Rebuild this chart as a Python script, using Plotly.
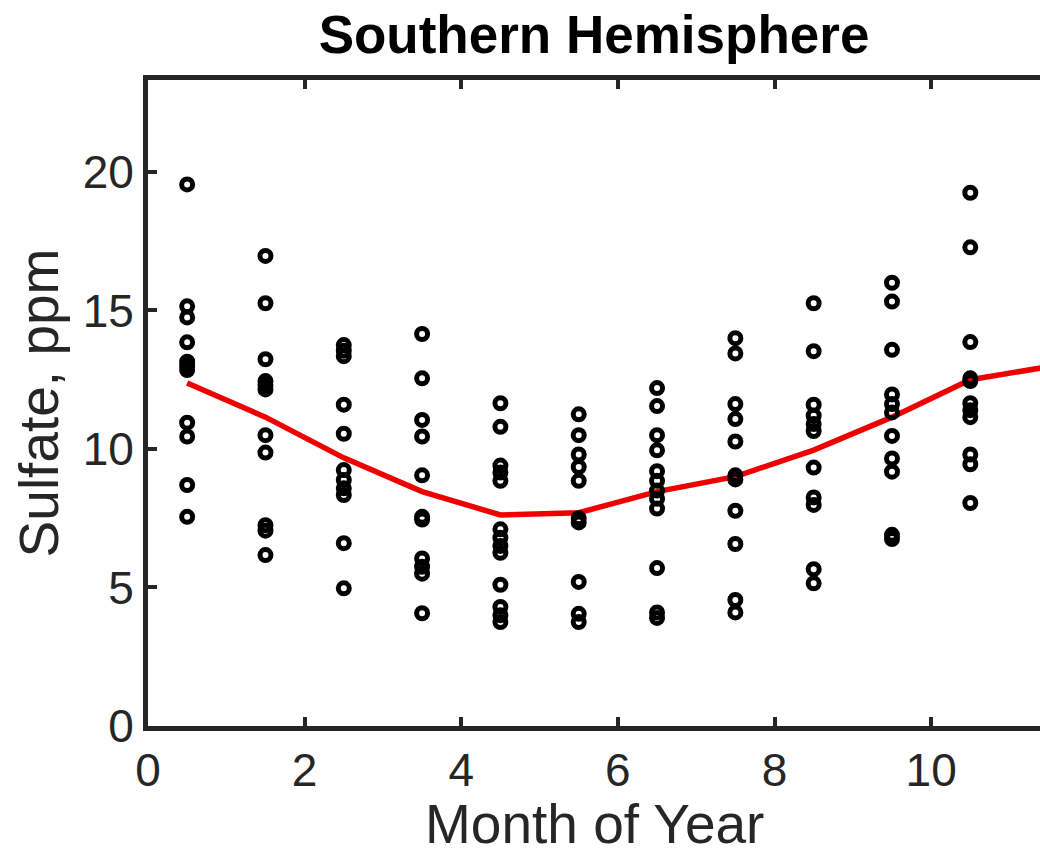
import plotly.graph_objects as go

# Month centres (x positions) and monthly sulfate samples (ppm)
month_x = [0.5, 1.5, 2.5, 3.5, 4.5, 5.5, 6.5, 7.5, 8.5, 9.5, 10.5, 11.5]

m01 = [19.55, 15.15, 14.75, 13.85, 13.15, 13.0, 12.85, 10.95, 10.45, 8.7, 7.55]
m02 = [16.97, 15.26, 13.24, 12.45, 12.3, 12.15, 10.5, 9.87, 7.25, 7.05, 6.17]
m03 = [13.75, 13.55, 13.35, 11.6, 10.55, 9.24, 8.88, 8.58, 8.34, 6.6, 4.97]
m04 = [14.15, 12.55, 11.05, 10.45, 9.05, 7.55, 7.45, 6.05, 5.75, 5.5, 4.07]
m05 = [11.65, 10.8, 9.4, 9.15, 8.85, 7.1, 6.8, 6.5, 6.25, 5.1, 4.3, 4.0, 3.75]
m06 = [11.25, 10.5, 9.8, 9.35, 8.85, 7.5, 7.35, 5.2, 4.05, 3.75]
m07 = [12.2, 11.55, 10.5, 9.95, 9.2, 8.85, 8.5, 8.2, 7.85, 5.7, 4.1, 3.9]
m08 = [14.0, 13.45, 11.62, 11.08, 10.27, 9.05, 8.9, 7.77, 6.57, 4.55, 4.1]
m09 = [15.26, 13.53, 11.6, 11.2, 10.9, 10.65, 9.33, 8.25, 7.98, 5.66, 5.15]
m10 = [16.0, 15.32, 13.58, 11.97, 11.62, 11.32, 10.47, 9.66, 9.18, 6.9, 6.75]
m11 = [19.25, 17.28, 13.86, 12.55, 12.45, 11.65, 11.4, 11.15, 9.8, 9.45, 8.05]
m12 = [20.0, 17.26, 16.28, 14.85, 14.55, 13.69, 13.15, 12.8, 11.85, 9.96, 8.8, 8.6, 5.03]

# Smoothed monthly mean (red curve)
mean_curve = [12.38, 11.15, 9.68, 8.46, 7.62, 7.7, 8.46, 9.0, 9.96, 11.15, 12.5, 12.97]

x_ticks = [0, 2, 4, 6, 8, 10]
y_ticks = [0, 5, 10, 15, 20]

monthly = [m01, m02, m03, m04, m05, m06, m07, m08, m09, m10, m11, m12]
xs, ys = [], []
for mx, vals in zip(month_x, monthly):
    xs += [mx] * len(vals)
    ys += vals

AX = "#262626"
FONT = "Liberation Sans, Arial, Helvetica, sans-serif"

fig = go.Figure()
fig.add_trace(go.Scatter(
    x=month_x, y=mean_curve, mode="lines",
    line=dict(color="#ee0000", width=5.5),
    hoverinfo="skip", showlegend=False,
))
fig.add_trace(go.Scatter(
    x=xs, y=ys, mode="markers",
    marker=dict(symbol="circle-open", size=11, color="black",
                line=dict(color="black", width=5)),
    showlegend=False,
))

fig.update_layout(
    width=1040, height=858,
    margin=dict(l=148, r=0, t=80, b=132),
    paper_bgcolor="white", plot_bgcolor="white",
    font=dict(family=FONT, color=AX),
    title=dict(text="<b>Southern Hemisphere</b>", x=0.5, xref="paper",
               y=1 - 34 / 858, yref="container", yanchor="middle",
               xanchor="center",
               font=dict(family=FONT, size=53, color="black")),
    annotations=[dict(
        text="Month of Year", xref="paper", yref="paper",
        x=0.5, y=-131 / 646, xanchor="center", yanchor="bottom",
        showarrow=False, font=dict(family=FONT, size=55, color=AX),
    )],
)
fig.update_xaxes(
    range=[0, 11.39], tickvals=x_ticks, ticktext=[str(v) for v in x_ticks],
    showgrid=False, zeroline=False,
    showline=True, linecolor=AX, linewidth=5, mirror="ticks",
    ticks="inside", ticklen=9, tickwidth=4, tickcolor=AX,
    tickfont=dict(size=46, color=AX),
)
fig.update_yaxes(
    range=[0, 23.32], tickvals=y_ticks, ticktext=[str(v) for v in y_ticks],
    showgrid=False, zeroline=False,
    showline=True, linecolor=AX, linewidth=5, mirror=False,
    ticks="inside", ticklen=9, tickwidth=4, tickcolor=AX,
    tickfont=dict(size=46, color=AX),
    title=dict(text="Sulfate, ppm", font=dict(size=55, color=AX), standoff=8),
)

fig.write_html("out.html")
